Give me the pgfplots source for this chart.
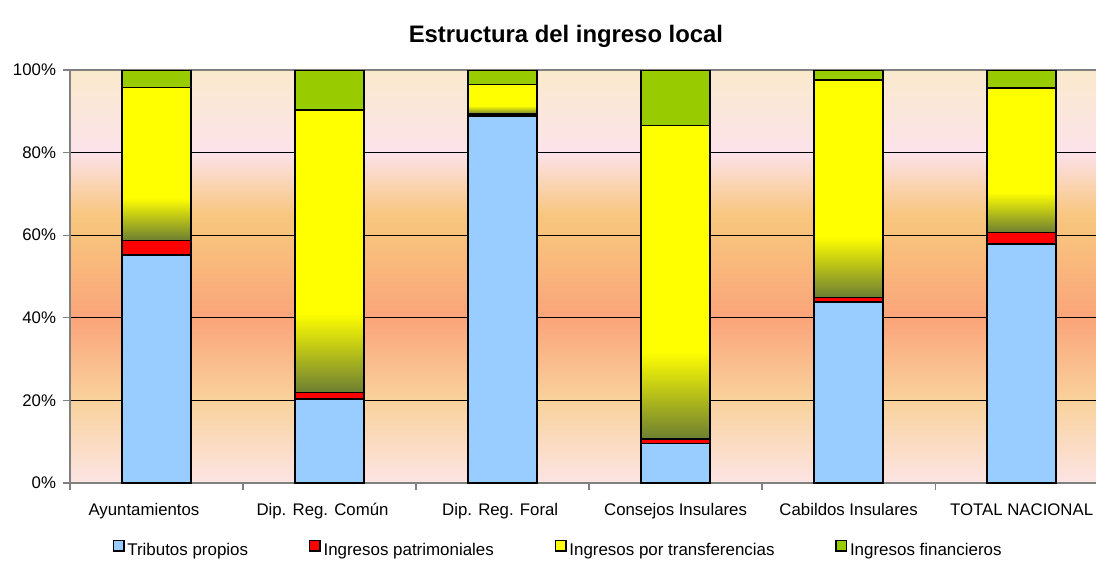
\documentclass[border=0pt]{standalone}
\usepackage{pgfplots}
\pgfplotsset{compat=1.18}
\usepackage{fontspec}
\setmainfont{Liberation Sans}

\definecolor{cBlue}{RGB}{153,204,255}
\definecolor{cRed}{RGB}{255,0,0}
\definecolor{cYel}{RGB}{255,255,0}
\definecolor{cOlive}{RGB}{108,126,50}
\definecolor{cGreen}{RGB}{153,204,0}
\definecolor{cAxis}{RGB}{128,128,128}
% background bands
\definecolor{bg0}{RGB}{252,228,228}
\definecolor{bg20}{RGB}{249,210,156}
\definecolor{bg40}{RGB}{250,164,122}
\definecolor{bg60}{RGB}{248,194,124}
\definecolor{bg65}{RGB}{248,198,126}
\definecolor{bg80}{RGB}{252,226,234}
\definecolor{bg100}{RGB}{250,234,204}

% 25bp = bottom of the path, 75bp = top
\pgfdeclareverticalshading{yelgrad}{100bp}{color(0bp)=(cOlive); color(25bp)=(cOlive); color(39bp)=(cYel); color(100bp)=(cYel)}
\pgfdeclareverticalshading{bgshade}{100bp}{color(0bp)=(bg0); color(25bp)=(bg0); color(35bp)=(bg20); color(45bp)=(bg40); color(55bp)=(bg60); color(57.5bp)=(bg65); color(65bp)=(bg80); color(75bp)=(bg100); color(100bp)=(bg100)}

\pgfplotsset{
  geom/.style={scale only axis, width=769.5pt, height=309.75pt,
    xmin=-0.5, xmax=5.43, ymin=0, ymax=100, ybar stacked, bar width=0.4},
  legbox/.style={legend image code/.code={\draw[fill=#1,draw=black,line width=1.1pt] (0pt,-0.5pt) rectangle (8pt,7.5pt);}},
  yelbar/.style={draw=black, line width=1.1pt, shading=yelgrad},
  % one yellow bar per axis, so that the gradient fits each bar
  yellayer/.style={geom, hide axis, at={(ax.south west)}, anchor=south west},
}

\begin{document}
\begin{tikzpicture}
\begin{axis}[
    name=ax,
    geom,
    axis x line*=bottom,
    axis y line*=left,
    axis line style={cAxis, line width=1.1pt},
    axis background/.style={shading=bgshade},
    xtick={0,...,5},
    xticklabels={\hspace*{-18.8pt}Ayuntamientos, \hspace*{-10.5pt}Dip. Reg. Común, \hspace*{-3.5pt}Dip. Reg. Foral, Consejos Insulares, Cabildos Insulares, TOTAL NACIONAL},
    minor xtick={-0.5,0.5,...,5.5},
    major x tick style={draw=none},
    ytick={0,20,...,80},
    yticklabels={0\%,20\%,40\%,60\%,80\%},
    extra y ticks={100},
    extra y tick labels={100\%},
    extra y tick style={major grid style={cAxis, line width=1.1pt}},
    tick align=outside,
    major tick length=5pt,
    minor tick length=5pt,
    tick style={cAxis, line width=0.9pt},
    ymajorgrids,
    major grid style={black, line width=0.7pt},
    tick label style={font=\fontsize{12.6}{15}\selectfont, text=black},
    xticklabel style={yshift=-6pt, text height=10pt, text depth=3pt},
    yticklabel style={xshift=-2pt},
    title={\textbf{Estructura del ingreso local}},
    title style={at={(0.4834,1.061)}, anchor=center, font=\fontsize{17.9}{21}\selectfont},
    legend columns=4,
    legend style={at={(0.476,-0.162)}, anchor=center, draw=none, fill=none,
      font=\fontsize{12.7}{15}\selectfont,
      /tikz/every even column/.append style={column sep=43.5pt}},
]
\addplot[draw=black, line width=1.1pt, fill=cBlue, legbox=cBlue] coordinates {
    (0,55.2) (1,20.3) (2,88.9) (3,9.6) (4,43.8) (5,57.9)};
\addlegendentry{Tributos propios}
\addplot[draw=black, line width=1.1pt, fill=cRed, legbox=cRed] coordinates {
    (0,3.5) (1,1.6) (2,0.4) (3,1.0) (4,1.1) (5,2.7)};
\addlegendentry{Ingresos patrimoniales}
\addplot[draw=black, line width=1.1pt, fill=cYel, legbox=cYel] coordinates {
    (0,37.1) (1,68.4) (2,7.2) (3,75.9) (4,52.7) (5,35.0)};
\addlegendentry{Ingresos por transferencias}
\addplot[draw=black, line width=1.1pt, fill=cGreen, legbox=cGreen] coordinates {
    (0,4.2) (1,9.7) (2,3.5) (3,13.5) (4,2.4) (5,4.4)};
\addlegendentry{Ingresos financieros}
\end{axis}

% gradient on the yellow segments: invisible base (tributos + patrimoniales), then the segment
\begin{axis}[yellayer]
\addplot[draw=none, fill=none] coordinates {(0,58.7)};
\addplot[yelbar] coordinates {(0,37.1)};
\end{axis}
\begin{axis}[yellayer]
\addplot[draw=none, fill=none] coordinates {(1,21.9)};
\addplot[yelbar] coordinates {(1,68.4)};
\end{axis}
\begin{axis}[yellayer]
\addplot[draw=none, fill=none] coordinates {(2,89.3)};
\addplot[yelbar] coordinates {(2,7.2)};
\end{axis}
\begin{axis}[yellayer]
\addplot[draw=none, fill=none] coordinates {(3,10.6)};
\addplot[yelbar] coordinates {(3,75.9)};
\end{axis}
\begin{axis}[yellayer]
\addplot[draw=none, fill=none] coordinates {(4,44.9)};
\addplot[yelbar] coordinates {(4,52.7)};
\end{axis}
\begin{axis}[yellayer]
\addplot[draw=none, fill=none] coordinates {(5,60.6)};
\addplot[yelbar] coordinates {(5,35.0)};
\end{axis}

\pgfresetboundingbox
\useasboundingbox ([shift={(-52.5pt,-61.5pt)}]ax.south west) rectangle ([shift={(769.5pt,362.25pt)}]ax.south west);
\end{tikzpicture}
\end{document}
